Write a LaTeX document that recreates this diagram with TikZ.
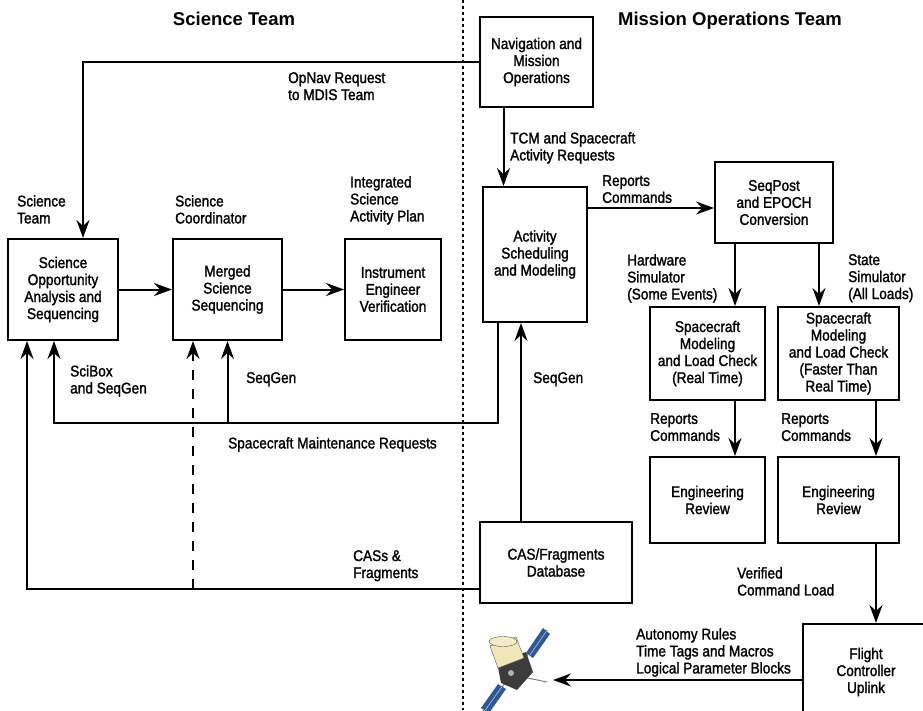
\documentclass[tikz,border=0pt]{standalone}
\usepackage{fontspec}
\setmainfont{Liberation Sans}[FakeStretch=0.88,FakeBold=1.5]
\newfontfamily\headfont{Liberation Sans}
\usetikzlibrary{arrows.meta}

\definecolor{panelblue}{HTML}{2F5896}
\definecolor{foil}{HTML}{F1E6B8}
\definecolor{bus}{HTML}{3C3C3C}

\tikzset{
	box/.style={draw,line width=2pt,align=center,inner sep=1pt},
	lbl/.style={anchor=north west,align=left,inner sep=0pt},
	head/.style={anchor=north,inner sep=0pt,font=\headfont\bfseries\fontsize{18.5}{22}\selectfont},
	flow/.style={line width=2pt,-{Stealth[length=18pt,width=13pt,inset=6pt]}}
}

\begin{document}
\begin{tikzpicture}[x=1pt,y=-1pt,font=\fontsize{15.5}{17}\selectfont]
	\useasboundingbox (0,0) rectangle (923,710);
	\draw[line width=1.2pt,dash pattern=on 3pt off 3pt] (463,0) -- (463,710);
	\node[head] (hsci) at (234,12) {Science Team};
	\node[head] (hmot) at (730,12) {Mission Operations Team};

	\node[box,minimum width=113pt,minimum height=90pt] (nav) at (536.5,62) {Navigation and\\Mission\\Operations};
	\node[box,minimum width=110pt,minimum height=101pt] (sci) at (63,289.5) {Science\\Opportunity\\Analysis and\\Sequencing};
	\node[box,minimum width=109pt,minimum height=101pt] (merged) at (227.5,289.5) {Merged\\Science\\Sequencing};
	\node[box,minimum width=96pt,minimum height=101pt] (instr) at (393,289.5) {Instrument\\Engineer\\Verification};
	\node[box,minimum width=104pt,minimum height=135pt] (act) at (535,254.5) {Activity\\Scheduling\\and Modeling};
	\node[box,minimum width=118pt,minimum height=81pt] (seqpost) at (774,202.5) {SeqPost\\and EPOCH\\Conversion};
	\node[box,minimum width=115pt,minimum height=93pt] (sm1) at (707.5,353.5) {Spacecraft\\Modeling\\and Load Check\\(Real Time)};
	\node[box,minimum width=121pt,minimum height=93pt] (sm2) at (838.5,353.5) {Spacecraft\\Modeling\\and Load Check\\(Faster Than\\Real Time)};
	\node[box,minimum width=115pt,minimum height=86pt] (er1) at (707.5,500) {Engineering\\Review};
	\node[box,minimum width=121pt,minimum height=86pt] (er2) at (838.5,500) {Engineering\\Review};
	\node[box,minimum width=152pt,minimum height=81pt] (cas) at (556,562.5) {CAS/Fragments\\Database};
	\node[box,minimum width=126pt,minimum height=96pt] (fc) at (866,672) {Flight\\Controller\\Uplink};

	\coordinate (mr) at (54,423);
	\coordinate (cr) at (27,589);
	\coordinate (sat) at (553,680);

	\draw[flow] (nav.west) -| ([xshift=20pt]sci.north);
	\draw[flow] (sci.east) -- (merged.west);
	\draw[flow] (merged.east) -- (instr.west);
	\draw[flow] ([xshift=-33pt]nav.south) -- ([xshift=-33pt]nav.south |- act.north);
	\draw[flow] ([yshift=-5.5pt]seqpost.west -| act.east) -- ([yshift=-5.5pt]seqpost.west);
	\draw[flow] ([xshift=-39pt]seqpost.south) -- ([xshift=-39pt]seqpost.south |- sm1.north);
	\draw[flow] ([xshift=45pt]seqpost.south) -- ([xshift=45pt]seqpost.south |- sm2.north);
	\draw[flow] ([xshift=27.5pt]sm1.south) -- ([xshift=27.5pt]er1.north);
	\draw[flow] ([xshift=37.5pt]sm2.south) -- ([xshift=37.5pt]er2.north);
	\draw[flow] ([xshift=37.5pt]er2.south) -- ([xshift=37.5pt]er2.south |- fc.north);
	\draw[flow] ([yshift=-8pt]fc.west) -- (sat);
	\draw[flow] ([xshift=-35pt]cas.north) -- ([xshift=-35pt]cas.north |- act.south);
	\draw[flow] ([xshift=-37pt]act.south) |- (mr) -- ([xshift=-9pt]sci.south);
	\draw[flow] (merged.south |- mr) -- (merged.south);
	\draw[flow] ([yshift=-26.5pt]cas.west) -| ([xshift=-36pt]sci.south);
	\draw[flow,dash pattern=on 10pt off 9pt] ([xshift=-34.5pt]merged.south |- cr) -- ([xshift=-34.5pt]merged.south);

	\node[lbl] (lopnav) at (288,72) {OpNav Request\\to MDIS Team};
	\node[lbl] (lsciteam) at (17,195) {Science\\Team};
	\node[lbl] (lcoord) at (175,195) {Science\\Coordinator};
	\node[lbl] (lplan) at (350,176) {Integrated\\Science\\Activity Plan};
	\node[lbl] (ltcm) at (510,132) {TCM and Spacecraft\\Activity Requests};
	\node[lbl] (lrep) at (602,175) {Reports\\Commands};
	\node[lbl] (lhw) at (627,254) {Hardware\\Simulator\\(Some Events)};
	\node[lbl] (lstate) at (848,254) {State\\Simulator\\(All Loads)};
	\node[lbl] (lrep1) at (650,413) {Reports\\Commands};
	\node[lbl] (lrep2) at (781,413) {Reports\\Commands};
	\node[lbl] (lseqact) at (533,372) {SeqGen};
	\node[lbl] (lscibox) at (70,365) {SciBox\\and SeqGen};
	\node[lbl] (lseqmrg) at (246,372) {SeqGen};
	\node[lbl] (lmaint) at (228,437) {Spacecraft Maintenance Requests};
	\node[lbl] (lcass) at (353,550) {CASs \&\\Fragments};
	\node[lbl] (lverif) at (737,567) {Verified\\Command Load};
	\node[lbl] (lauto) at (636,628) {Autonomy Rules\\Time Tags and Macros\\Logical Parameter Blocks};

	\draw[gray,line width=1pt] (480,715) -- (547,630);
	\fill[panelblue] (526,653) -- (533,658) -- (550,634) -- (543,628) -- cycle;
	\fill[panelblue] (498,684) -- (506,689) -- (489,713) -- (481,708) -- cycle;
	\draw[white!75!panelblue,line width=0.5pt] (529.5,655.5) -- (546.5,631) (502,686.5) -- (485,710.5);
	\draw[gray,line width=1pt] (518,676) -- (547,682);
	\fill[bus] (497,662) -- (526,652) -- (533,672) -- (517,690) -- (501,683) -- cycle;
	\fill[foil,draw=gray!70!black,line width=0.4pt] (490,646) -- (498,668) -- (524,658) -- (516,637) -- cycle;
	\fill[foil!80!white,draw=gray!70!black,line width=0.4pt] (503,641.5) ellipse[x radius=14,y radius=5];
	\fill[gray!60] (511,673) circle (3);
\end{tikzpicture}
\end{document}
